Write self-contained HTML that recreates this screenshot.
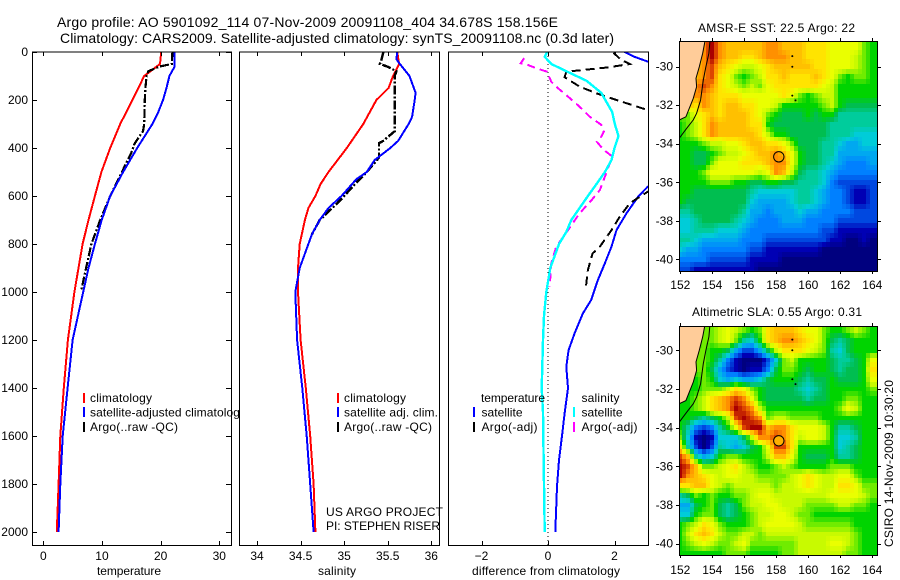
<!DOCTYPE html>
<html>
<head>
<meta charset="utf-8">
<title>Argo profile</title>
<style>
html,body{margin:0;padding:0;background:#fff;}
svg{display:block;font-family:"Liberation Sans",sans-serif;font-size:12px;fill:#000;}
text{fill:#000;}
</style>
</head>
<body>
<svg id="fig" width="900" height="580" viewBox="0 0 900 580" xmlns="http://www.w3.org/2000/svg">
<defs>
<clipPath id="clipT"><rect x="32" y="52" width="200" height="494"/></clipPath>
<clipPath id="clipS"><rect x="240" y="52" width="200" height="494"/></clipPath>
<clipPath id="clipD"><rect x="448" y="52" width="200" height="494"/></clipPath>
<clipPath id="clipM1"><rect x="679" y="41" width="198" height="230"/></clipPath>
<clipPath id="clipM2"><rect x="679" y="326" width="198" height="229"/></clipPath>
</defs>
<rect width="900" height="580" fill="#fff"/>
<text x="57" y="27" font-size="14" textLength="501" lengthAdjust="spacing">Argo profile: AO 5901092_114 07-Nov-2009 20091108_404 34.678S 158.156E</text>
<text x="60" y="43" font-size="14" textLength="554" lengthAdjust="spacing">Climatology: CARS2009. Satellite-adjusted climatology: synTS_20091108.nc (0.3d later)</text>

<g id="panelT"></g>
<g>
<rect x="83" y="393" width="2" height="10" fill="#f00"/>
<rect x="83" y="407" width="2" height="10" fill="#00f"/>
<rect x="83" y="422" width="2" height="10" fill="#000"/>
<text x="90" y="402" textLength="62">climatology</text>
<text x="90" y="416.5" textLength="156">satellite-adjusted climatology</text>
<text x="90" y="431" textLength="88">Argo(..raw -QC)</text>
</g>

<rect x="240" y="52" width="200" height="494" fill="#fff"/>
<g id="panelS"></g>
<g>
<rect x="337" y="393" width="2" height="10" fill="#f00"/>
<rect x="337" y="407" width="2" height="10" fill="#00f"/>
<rect x="337" y="422" width="2" height="10" fill="#000"/>
<text x="344" y="402" textLength="62">climatology</text>
<text x="344" y="416.5" textLength="94">satellite adj. clim.</text>
<text x="344" y="431" textLength="88">Argo(..raw -QC)</text>
<text x="326" y="516" textLength="117">US ARGO PROJECT</text>
<text x="326" y="530" textLength="114">PI: STEPHEN RISER</text>
</g>

<rect x="448" y="52" width="200" height="494" fill="#fff"/>
<g id="panelD"></g>
<g>
<text x="481" y="402" textLength="64">temperature</text>
<rect x="473" y="407" width="2" height="10" fill="#00f"/>
<rect x="473" y="422" width="2" height="10" fill="#000"/>
<text x="481.5" y="416.5" textLength="41">satellite</text>
<text x="481.5" y="431" textLength="56">Argo(-adj)</text>
<text x="581.5" y="402" textLength="38">salinity</text>
<rect x="573" y="407" width="2" height="10" fill="#0ff"/>
<rect x="573" y="422" width="2" height="10" fill="#f0f"/>
<text x="581.5" y="416.5" textLength="41">satellite</text>
<text x="581.5" y="431" textLength="56">Argo(-adj)</text>
</g>

<text x="129" y="575" text-anchor="middle" textLength="64">temperature</text>
<text x="337" y="575" text-anchor="middle" textLength="38">salinity</text>
<text x="546" y="575" text-anchor="middle" textLength="148">difference from climatology</text>

<g id="map1"></g>
<g id="map2"></g>
<text x="698" y="32" textLength="157">AMSR-E SST: 22.5 Argo: 22</text>
<text x="692" y="316" textLength="170">Altimetric SLA: 0.55 Argo: 0.31</text>
<text transform="translate(893,547) rotate(-90)" textLength="167">CSIRO 14-Nov-2009 10:30:20</text>
</svg>

<script>
// ---- profile chart data ----
var depthTicks = [0,200,400,600,800,1000,1200,1400,1600,1800,2000];
var tempTicks = [0,10,20,30];
var salTicks = [34,34.5,35,35.5,36];
var diffTicks = [-2,0,2];

var tempClimDepth = [0,50,100,200,300,400,500,600,700,800,900,1000,1200,1400,1600,1800,2000];
var tempClimValue = [20.1,19.9,17.2,15.2,13.1,11.4,9.9,8.8,7.7,6.7,6.0,5.3,4.2,3.5,2.9,2.6,2.3];
var tempSatDepth = [0,60,100,150,200,250,300,400,500,600,700,800,900,1000,1200,1400,1600,1800,2000];
var tempSatValue = [22.4,22.4,21.5,21.0,20.4,19.6,18.6,16.0,13.6,11.4,9.95,8.8,7.7,6.8,5.0,4.15,3.3,2.9,2.6];
var tempArgoDepth = [0,50,60,80,100,150,200,300,330,380,420,500,600,700,800,900,990];
var tempArgoValue = [22.0,21.9,19.9,17.9,17.6,17.4,17.3,17.2,17.0,15.6,15.0,13.4,11.4,9.7,8.2,7.3,6.5];

var salClimDepth = [0,50,100,150,200,300,400,500,550,600,650,700,800,900,1000,1200,1400,1600,1800,2000];
var salClimValue = [35.61,35.63,35.56,35.51,35.37,35.22,35.03,34.82,34.73,34.67,34.59,34.55,34.49,34.47,34.47,34.50,34.56,34.61,34.65,34.67];
var salSatDepth = [0,30,50,100,170,200,270,300,370,400,450,500,530,600,650,700,760,800,900,1000,1200,1400,1600,1800,2000];
var salSatValue = [35.61,35.6,35.64,35.75,35.82,35.81,35.78,35.74,35.62,35.53,35.35,35.26,35.14,34.97,34.82,34.72,34.63,34.59,34.49,34.44,34.46,34.52,34.57,34.61,34.65];
var salArgoDepth = [0,30,50,60,80,100,200,330,370,380,440,470,500,560,620,700,760];
var salArgoValue = [35.45,35.43,35.41,35.49,35.6,35.58,35.58,35.58,35.45,35.4,35.4,35.33,35.26,35.1,34.95,34.72,34.63];

var diffTempSatDepth = [0,20,40,100,300,500,561,603,672,742,811,880,950,1033,1089,1172,1242,1311,1401,1506,1589,1700,1811,2000];
var diffTempSatValue = [2.3,2.6,3.0,4.3,5.5,3.7,3.0,2.71,2.36,2.06,1.91,1.71,1.5,1.3,1.05,0.8,0.62,0.55,0.6,0.5,0.43,0.33,0.27,0.22];
var diffTempArgoDepth = [0,6,33,50,64,82,105,144,172,200,242,300,450,540,582,630,686,742,811,839,908,989];
var diffTempArgoValue = [2.0,1.99,2.2,2.46,1.8,0.55,0.5,0.95,1.46,2.06,3.0,4.0,4.0,3.3,3.0,2.46,2.16,1.91,1.56,1.34,1.2,1.13];
var diffSalSatDepth = [0,20,50,80,120,170,250,300,350,400,450,500,550,600,650,700,750,800,900,1000,1100,1200,1400,1500,1600,1800,2000];
var diffSalSatValue = [-0.02,-0.1,0.1,0.55,1.16,1.6,1.93,2.01,2.12,2.0,1.91,1.71,1.46,1.2,0.95,0.7,0.55,0.33,0.07,-0.05,-0.12,-0.15,-0.19,-0.15,-0.14,-0.12,-0.1];
var diffSalArgoDepth = [26,47,54,68,82,124,151,186,228,269,304,332,353,374,406,433,464,519,575,617,672,742,811,880,978];
var diffSalArgoValue = [-0.72,-0.82,-0.6,-0.35,-0.03,0.1,0.3,0.6,0.95,1.25,1.61,1.68,1.6,1.47,1.66,1.91,1.86,1.71,1.56,1.31,0.95,0.6,0.25,0.1,0.05];

// ---- map data ----
var mapLonTicks = [152,154,156,158,160,162,164];
var mapLatTicks = [30,32,34,36,38,40];
var gridLons = [152,152.5,153,153.5,154,154.5,155,155.5,156,156.5,157,157.5,158,158.5,159,159.5,160,160.5,161,161.5,162,162.5,163,163.5,164];
var gridLats = [29,29.5,30,30.5,31,31.5,32,32.5,33,33.5,34,34.5,35,35.5,36,36.5,37,37.5,38,38.5,39,39.5,40,40.5];
var sstGrid = [
[12,12,12,14,16,14,13,13,13,13,13,14,14,13,13,13,12,12,12,11,11,11,11,9,8],
[12,12,12,14,16,14,13,13,12,12,13,14,14,14,13,13,12,12,12,11,11,11,10,9,8],
[13,13,13,14,15,13,12,11,10,10,11,12,13,13,13,13,13,12,12,11,11,11,10,9,8],
[13,13,13,14,15,12,11,9,8,9,10,12,12,13,12,12,12,13,12,11,9,8,9,9,8],
[13,13,14,15,14,12,11,10,9,10,9,11,12,12,12,12,12,12,11,10,8,8,8,8,8],
[13,13,14,14,13,12,12,12,11,11,11,11,11,12,11,9,8,9,10,10,8,8,8,8,8],
[13,13,12,14,13,12,13,13,12,12,11,11,10,8,8,8,8,8,9,10,8,7,7,7,7],
[9,9,11,12,13,12,13,13,13,12,11,9,8,7,7,7,8,7,8,8,6,6,6,6,6],
[8,9,10,12,14,13,13,13,13,12,12,8,7,7,7,7,7,7,7,6,6,6,6,6,6],
[8,9,10,12,14,13,13,13,13,13,12,10,8,8,7,7,7,7,7,6,6,6,5,5,5],
[8,8,8,9,10,10,11,11,12,13,13,12,12,11,9,7,7,7,6,6,5,4,4,5,5],
[8,8,7,7,8,9,10,10,11,12,13,13,14,13,11,8,7,7,6,6,4,4,4,4,4],
[8,8,7,7,9,11,11,11,12,12,12,13,14,14,11,8,7,7,6,5,4,3,3,3,4],
[8,8,8,9,11,11,11,11,11,11,10,11,14,13,10,7,6,6,5,4,3,3,3,3,3],
[8,8,8,8,9,9,9,8,8,7,7,8,8,7,7,6,6,6,5,3,2,2,2,2,2],
[8,8,7,7,7,7,7,7,7,6,5,5,5,5,5,6,6,5,4,3,3,2,1,1,2],
[8,7,7,7,7,7,7,7,7,5,4,4,4,4,5,6,6,5,4,3,3,2,1,1,2],
[6,6,7,7,7,7,7,7,6,4,4,3,4,4,4,5,4,4,3,3,3,3,2,2,2],
[5,5,6,7,7,7,7,6,5,4,3,3,3,4,4,4,3,3,3,3,2,2,2,2,2],
[5,5,6,6,6,5,5,5,4,3,3,3,3,3,3,3,3,3,2,2,1,1,1,1,1],
[6,6,5,4,4,4,4,4,3,3,3,2,2,2,2,2,2,2,2,1,1,0,0,1,0],
[5,4,4,3,3,3,3,3,3,2,2,1,1,1,1,1,1,1,0,0,0,0,0,0,0],
[3,3,3,3,2,2,2,2,2,1,1,1,1,0,0,0,0,0,0,0,0,0,0,0,0],
[2,2,1,1,1,1,1,1,1,1,0,0,0,0,0,0,0,0,0,0,0,0,0,0,0]
];
var slaGrid = [
[8,8,8,9,9,10,11,10,9,8,9,12,13,13,13,12,11,11,9,8,8,9,10,9,8],
[8,8,8,9,9,10,11,9,6,5,8,12,13,14,14,13,12,11,9,7,6,7,8,8,8],
[8,8,9,9,8,8,7,4,2,2,4,7,10,12,12,12,11,10,9,6,5,7,8,8,8],
[8,8,9,9,8,6,3,1,0,0,0,2,5,9,10,8,8,8,8,7,6,6,7,8,11],
[8,8,9,9,7,4,2,1,0,1,1,3,7,9,9,8,7,8,8,7,6,7,7,8,12],
[8,8,8,9,8,5,4,5,4,4,5,7,8,8,8,7,6,7,7,8,7,7,7,8,11],
[8,8,8,9,9,9,10,12,11,9,8,7,7,7,7,6,5,6,7,8,8,8,8,8,9],
[8,8,9,10,12,13,14,15,14,11,8,7,7,7,7,7,6,7,7,8,8,9,9,8,8],
[8,8,9,10,12,13,14,16,15,14,10,8,8,8,8,8,8,8,8,8,9,11,10,8,8],
[8,8,7,6,7,8,10,15,16,15,14,9,10,10,9,9,9,9,8,8,8,8,8,8,8],
[8,6,3,2,3,6,8,11,15,16,16,13,14,14,12,11,11,11,10,8,6,6,7,8,8],
[9,5,1,0,1,5,5,5,7,10,14,14,15,14,12,10,11,11,10,8,5,5,6,8,8],
[12,6,2,0,2,6,5,4,5,7,8,11,15,15,12,8,8,8,8,8,5,6,7,8,8],
[15,13,6,4,5,8,9,9,8,8,8,10,13,13,11,8,7,7,7,8,6,6,7,8,8],
[16,15,13,9,9,10,11,12,10,9,8,8,9,10,9,8,8,8,8,9,9,9,8,8,8],
[16,14,13,12,11,10,11,11,10,10,9,9,9,9,10,11,12,11,10,10,11,11,9,8,8],
[12,12,13,13,11,10,9,10,10,10,10,10,9,10,10,11,12,11,10,10,12,12,11,9,9],
[6,7,9,8,9,8,8,9,9,10,11,11,10,10,10,10,10,10,10,11,11,11,11,10,9],
[4,4,7,8,9,7,6,7,9,10,10,11,11,10,10,10,9,9,9,9,10,10,9,9,8],
[5,5,8,9,9,7,6,7,8,9,10,10,11,11,10,9,9,8,8,8,8,8,8,8,8],
[8,9,10,12,11,9,8,8,8,9,10,11,11,11,11,10,9,9,9,9,9,9,8,8,8],
[8,10,12,13,12,10,9,9,10,10,9,10,10,10,10,10,10,10,10,10,10,10,9,8,8],
[8,9,10,11,10,9,9,10,11,9,9,9,9,9,9,10,10,10,10,11,11,10,9,8,8],
[8,8,8,8,8,8,9,9,9,8,8,8,8,9,9,10,10,10,10,10,10,9,9,8,8]
];
var coastLon = [153.54,153.4,153.19,152.98,153.02,152.81,152.56,152.35,152.02,151.94];
var coastLat = [28.69,29.3,30,30.6,31.04,31.64,32.16,32.6,32.73,32.76];
var shelfLon = [153.85,153.79,153.6,153.44,153.27,153.02,152.81,152.4,151.94];
var shelfLat = [28.69,29.3,30,30.69,31.73,32.42,32.76,33.2,33.71];
var islandLon = [159,159,159,159.2];
var islandLat = [29.45,30,31.5,31.75];
var profileLon = 158.156;
var profileLat = 34.678;

var SVGNS = 'http://www.w3.org/2000/svg';
var paletteRGB = [[0,0,127],[0,0,180],[0,72,224],[0,128,255],[0,168,240],[0,204,216],[0,204,156],[0,190,80],[0,212,0],[112,236,0],[200,250,0],[234,255,0],[255,228,0],[255,192,0],[255,144,0],[221,68,0],[170,0,0]];

function colorFor(v){
  var t = Math.max(0, Math.min(paletteRGB.length - 1, v));
  var i = Math.min(paletteRGB.length - 2, Math.floor(t));
  var f = t - i;
  var a = paletteRGB[i];
  var b = paletteRGB[i + 1];
  return 'rgb(' + Math.round(a[0] + (b[0] - a[0]) * f) + ',' + Math.round(a[1] + (b[1] - a[1]) * f) + ',' + Math.round(a[2] + (b[2] - a[2]) * f) + ')';
}
function sampleGrid(grid, rowPos, colPos){
  var rp = Math.max(0, Math.min(grid.length - 1, rowPos));
  var cp = Math.max(0, Math.min(grid[0].length - 1, colPos));
  var r0 = Math.floor(rp);
  var c0 = Math.floor(cp);
  var r1 = Math.min(grid.length - 1, r0 + 1);
  var c1 = Math.min(grid[0].length - 1, c0 + 1);
  var fr = rp - r0;
  var fc = cp - c0;
  return (grid[r0][c0] * (1 - fc) + grid[r0][c1] * fc) * (1 - fr) + (grid[r1][c0] * (1 - fc) + grid[r1][c1] * fc) * fr;
}
function mk(tag, attrs, parent){
  var e = document.createElementNS(SVGNS, tag);
  for (var k in attrs) e.setAttribute(k, attrs[k]);
  parent.appendChild(e);
  return e;
}
function linear(d0, d1, r0, r1){
  return function(v){ return r0 + (v - d0) * (r1 - r0) / (d1 - d0); };
}
var yDepth = linear(0, 2000, 52, 532);

function drawLine(parent, xs, depths, values, clip, color, width, dash, name){
  var pts = [];
  for (var i = 0; i < depths.length; i++) pts.push(xs(values[i]).toFixed(1) + ',' + yDepth(depths[i]).toFixed(1));
  var attrs = {points: pts.join(' '), fill: 'none', stroke: color, 'stroke-width': width, 'clip-path': 'url(#' + clip + ')', 'shape-rendering': 'crispEdges'};
  if (dash) attrs['stroke-dasharray'] = dash;
  var el = mk('polyline', attrs, parent);
  
  
}
function drawFrame(parent, L, R){
  var el = mk('rect', {x: L, y: 52, width: R - L, height: 493.5, fill: 'none', stroke: '#000', 'stroke-width': 1}, parent);
  
  
}
function drawXTicks(parent, xs, ticks){
  for (var i = 0; i < ticks.length; i++){
    var x = Math.round(xs(ticks[i])) + 0.5;
    var t1 = mk('line', {x1: x, x2: x, y1: 52, y2: 56, stroke: '#000'}, parent);
    
    
    var t2 = mk('line', {x1: x, x2: x, y1: 541, y2: 545.5, stroke: '#000'}, parent);
    
    
    var lab = mk('text', {x: xs(ticks[i]), y: 560, 'text-anchor': 'middle'}, parent);
    lab.textContent = String(ticks[i]).replace('-', '\u2212');
    
    
  }
}

// temperature panel
var panelT = document.getElementById('panelT');
var xT = linear(0, 30, 43.3, 219.3);
drawLine(panelT, xT, tempClimDepth, tempClimValue, 'clipT', '#f00', 2, null, 'temperature-climatology-line');
drawLine(panelT, xT, tempArgoDepth, tempArgoValue, 'clipT', '#000', 2.2, '9 2 2 2', 'temperature-argo-line');
drawLine(panelT, xT, tempSatDepth, tempSatValue, 'clipT', '#00f', 2, null, 'temperature-satellite-line');
drawFrame(panelT, 32.5, 231.5);
drawXTicks(panelT, xT, tempTicks);
for (var i = 0; i < depthTicks.length; i++){
  var yy = Math.round(yDepth(depthTicks[i])) + 0.5;
  var tl = mk('line', {x1: 32, x2: 37, y1: yy, y2: yy, stroke: '#000'}, panelT);
  
  
  var tr = mk('line', {x1: 226, x2: 231, y1: yy, y2: yy, stroke: '#000'}, panelT);
  
  
  var dl = mk('text', {x: 28, y: yDepth(depthTicks[i]) + 4, 'text-anchor': 'end'}, panelT);
  dl.textContent = depthTicks[i];
  
  
}

// salinity panel
var panelS = document.getElementById('panelS');
var xS = linear(34, 36, 257, 431.3);
drawLine(panelS, xS, salClimDepth, salClimValue, 'clipS', '#f00', 2, null, 'salinity-climatology-line');
drawLine(panelS, xS, salArgoDepth, salArgoValue, 'clipS', '#000', 2.4, '9 2 2 2', 'salinity-argo-line');
drawLine(panelS, xS, salSatDepth, salSatValue, 'clipS', '#00f', 2, null, 'salinity-satellite-line');
drawFrame(panelS, 239.5, 439.5);
drawXTicks(panelS, xS, salTicks);

// difference panel
var panelD = document.getElementById('panelD');
var xD = linear(-2, 2, 481.5, 614.5);
var zeroLine = mk('line', {x1: xD(0), x2: xD(0), y1: 52, y2: 545, stroke: '#000', 'stroke-width': 1, 'stroke-dasharray': '1 3'}, panelD);


drawLine(panelD, xD, diffTempSatDepth, diffTempSatValue, 'clipD', '#00f', 2, null, 'difference-temperature-satellite-line');
drawLine(panelD, xD, diffTempArgoDepth, diffTempArgoValue, 'clipD', '#000', 2, '9 5', 'difference-temperature-argo-line');
drawLine(panelD, xD, diffSalArgoDepth, diffSalArgoValue, 'clipD', '#f0f', 2, '8 5', 'difference-salinity-argo-line');
drawLine(panelD, xD, diffSalSatDepth, diffSalSatValue, 'clipD', '#0ff', 2.4, null, 'difference-salinity-satellite-line');
drawFrame(panelD, 448.5, 648.5);
drawXTicks(panelD, xD, diffTicks);

// maps: each read grid value is rendered as finer 0.25-degree raster cells
function drawMap(id, grid, clip, top, bottom, lat30y, lat40y, labelY, name, circleFill){
  var g = document.getElementById(id);
  var xM = linear(152, 164, 680.3, 872.3);
  var yM = linear(30, 40, lat30y, lat40y);
  var cells = mk('g', {'clip-path': 'url(#' + clip + ')', 'shape-rendering': 'crispEdges'}, g);
  
  
  var lonStart = gridLons[0];
  var latStart = gridLats[0];
  var lonStep = gridLons[1] - gridLons[0];
  var latStep = gridLats[1] - gridLats[0];
  for (var r = -1; r <= (gridLats.length - 1) * 2 + 1; r++){
    for (var c = -1; c <= (gridLons.length - 1) * 2 + 1; c++){
      var lon = lonStart + c * lonStep / 2;
      var lat = latStart + r * latStep / 2;
      var x0 = Math.round(xM(lon - lonStep / 4));
      var x1 = Math.round(xM(lon + lonStep / 4));
      var y0 = Math.round(yM(lat - latStep / 4));
      var y1 = Math.round(yM(lat + latStep / 4));
      var value = sampleGrid(grid, r / 2, c / 2);
      var cell = mk('rect', {x: x0, y: y0, width: x1 - x0, height: y1 - y0, fill: colorFor(value)}, cells);
      
      
    }
  }
  var over = mk('g', {'clip-path': 'url(#' + clip + ')'}, g);
  var landPts = [];
  var coastPts = [];
  var shelfPts = [];
  for (var i = 0; i < coastLon.length; i++) coastPts.push(xM(coastLon[i]).toFixed(1) + ',' + yM(coastLat[i]).toFixed(1));
  for (var j = 0; j < shelfLon.length; j++) shelfPts.push(xM(shelfLon[j]).toFixed(1) + ',' + yM(shelfLat[j]).toFixed(1));
  landPts = coastPts.concat([xM(151.5) + ',' + yM(coastLat[coastLat.length - 1]), xM(151.5) + ',' + yM(28), xM(coastLon[0]) + ',' + yM(28)]);
  var land = mk('polygon', {points: landPts.join(' '), fill: '#ffcc99'}, over);
  
  
  var coast = mk('polyline', {points: coastPts.join(' '), fill: 'none', stroke: '#000', 'stroke-width': 1}, over);
  
  
  var shelf = mk('polyline', {points: shelfPts.join(' '), fill: 'none', stroke: '#000', 'stroke-width': 1}, over);
  
  
  for (var k = 0; k < islandLon.length; k++){
    var isl = mk('circle', {cx: xM(islandLon[k]), cy: yM(islandLat[k]), r: 1, fill: '#000'}, over);
    
    
  }
  var frame = mk('rect', {x: 679.5, y: top + 0.5, width: 198, height: bottom - top, fill: 'none', stroke: '#000'}, g);
  
  
  for (var a = 0; a < mapLonTicks.length; a++){
    var tx = Math.round(xM(mapLonTicks[a])) + 0.5;
    var t1 = mk('line', {x1: tx, x2: tx, y1: top - 3, y2: top, stroke: '#000'}, g);
    
    
    var t2 = mk('line', {x1: tx, x2: tx, y1: bottom, y2: bottom + 3, stroke: '#000'}, g);
    
    
    var lb = mk('text', {x: xM(mapLonTicks[a]), y: labelY, 'text-anchor': 'middle'}, g);
    lb.textContent = mapLonTicks[a];
    
    
  }
  for (var b = 0; b < mapLatTicks.length; b++){
    var ty = Math.round(yM(mapLatTicks[b])) + 0.5;
    var t3 = mk('line', {x1: 676, x2: 679, y1: ty, y2: ty, stroke: '#000'}, g);
    
    
    var t4 = mk('line', {x1: 878, x2: 881, y1: ty, y2: ty, stroke: '#000'}, g);
    
    
    var lc = mk('text', {x: 673, y: yM(mapLatTicks[b]) + 4, 'text-anchor': 'end'}, g);
    lc.textContent = '-' + mapLatTicks[b];
    
    
  }
  var marker = mk('circle', {cx: xM(profileLon), cy: yM(profileLat), r: 5.2, fill: circleFill, stroke: '#000', 'stroke-width': 1}, g);
  
  
}
drawMap('map1', sstGrid, 'clipM1', 41, 271, 66.7, 259.3, 289, 'sst-map', 'none');
drawMap('map2', slaGrid, 'clipM2', 326, 555, 350.3, 543.7, 574, 'sla-map', '#ffb000');
</script>
</body>
</html>
